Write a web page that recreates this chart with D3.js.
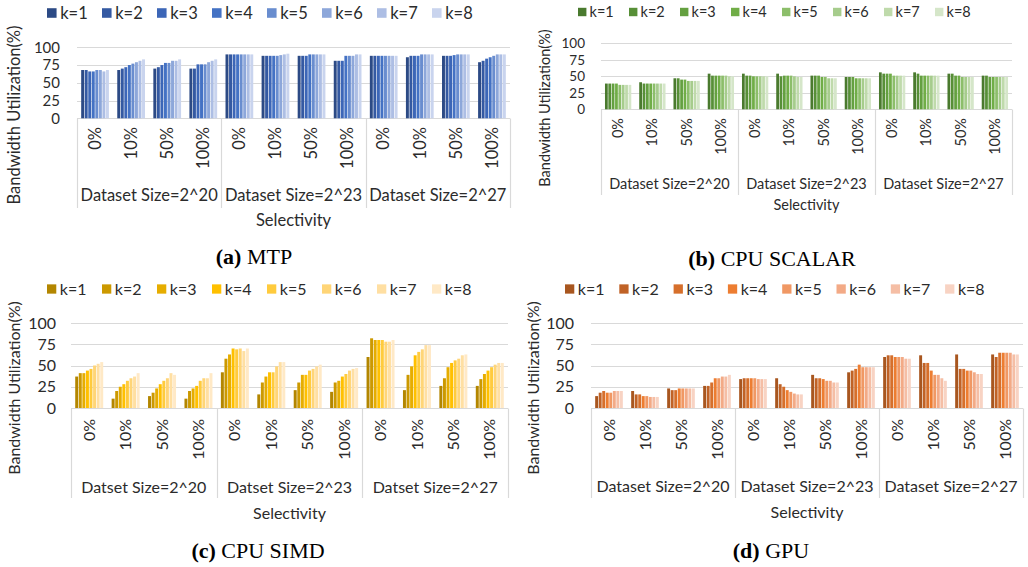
<!DOCTYPE html>
<html>
<head>
<meta charset="utf-8">
<script src="https://cdn.jsdelivr.net/npm/d3@7"></script>
<style>
  html, body { margin: 0; padding: 0; background: #fff; }
  svg { display: block; font-family: Lato, "Open Sans", sans-serif; }
</style>
</head>
<body>
<svg id="chart" width="1028" height="567"></svg>
<script>
const selectivities = ["0%", "10%", "50%", "100%"];
const datasetLabels = ["Dataset Size=2^20", "Dataset Size=2^23", "Dataset Size=2^27"];
const datsetLabels = ["Datset Size=2^20", "Datset Size=2^23", "Datset Size=2^27"];
const seriesNames = ["k=1", "k=2", "k=3", "k=4", "k=5", "k=6", "k=7", "k=8"];
const yTicks = [0, 25, 50, 75, 100];

// one row per (dataset size, selectivity), one value per k
const mtpValues = [
  [68, 68, 66, 66, 68, 68, 66, 68],
  [68, 70, 72, 75, 77, 79, 81, 83],
  [70, 72, 75, 78, 78, 81, 81, 83],
  [70, 70, 76, 76, 76, 79, 81, 83],
  [90, 90, 90, 90, 90, 90, 90, 90],
  [88, 88, 88, 88, 88, 89, 90, 91],
  [88, 88, 88, 90, 90, 90, 90, 90],
  [81, 81, 81, 88, 88, 88, 90, 90],
  [88, 88, 88, 88, 88, 88, 88, 88],
  [86, 88, 88, 88, 90, 90, 90, 90],
  [88, 88, 88, 89, 90, 90, 90, 90],
  [79, 81, 84, 86, 88, 90, 90, 90]
];

const cpuScalarValues = [
  [39, 39, 39, 39, 37, 37, 37, 37],
  [41, 39, 39, 39, 39, 39, 39, 39],
  [47, 47, 45, 45, 43, 43, 43, 43],
  [54, 51, 51, 51, 51, 51, 50, 50],
  [54, 51, 51, 50, 50, 50, 50, 50],
  [54, 50, 51, 51, 51, 50, 49, 49],
  [51, 51, 51, 49, 49, 47, 47, 47],
  [49, 49, 49, 47, 47, 47, 47, 47],
  [56, 54, 54, 54, 51, 51, 51, 51],
  [56, 54, 51, 51, 51, 51, 51, 51],
  [54, 54, 51, 51, 49, 49, 49, 49],
  [51, 51, 49, 49, 49, 49, 49, 49]
];

const cpuSimdValues = [
  [37, 41, 41, 44, 46, 50, 52, 54],
  [11, 20, 25, 28, 32, 35, 37, 41],
  [14, 18, 23, 28, 32, 35, 41, 39],
  [11, 20, 23, 26, 32, 35, 35, 41],
  [42, 58, 63, 70, 69, 70, 67, 70],
  [16, 30, 37, 42, 42, 49, 54, 54],
  [21, 30, 39, 39, 44, 46, 49, 51],
  [19, 30, 32, 37, 40, 44, 46, 47],
  [60, 82, 80, 80, 80, 78, 78, 80],
  [21, 39, 49, 62, 66, 69, 74, 74],
  [26, 35, 48, 53, 56, 58, 62, 63],
  [26, 34, 40, 44, 48, 51, 53, 53]
];

const gpuValues = [
  [14, 18, 20, 18, 18, 20, 20, 20],
  [20, 16, 16, 14, 14, 13, 13, 13],
  [23, 21, 21, 23, 23, 23, 23, 23],
  [26, 26, 30, 35, 35, 37, 37, 39],
  [34, 35, 35, 35, 35, 34, 34, 34],
  [35, 28, 25, 21, 19, 17, 16, 16],
  [39, 35, 35, 34, 32, 32, 30, 30],
  [42, 44, 46, 51, 48, 48, 48, 48],
  [60, 62, 62, 60, 60, 60, 58, 58],
  [62, 53, 53, 44, 39, 39, 35, 32],
  [63, 46, 46, 44, 44, 42, 40, 40],
  [63, 60, 65, 65, 65, 65, 63, 63]
];

const blues = ["#2c4a85", "#3459a2", "#3c66b7", "#4472c4", "#698dcf", "#8da7da", "#adbee4", "#c9d4ee"];
const greens = ["#4a7a2e", "#578f37", "#64a040", "#70ad47", "#8cbe6a", "#a6cc8c", "#bfdaab", "#d5e6c9"];
const golds = ["#b38600", "#cc9900", "#e6ad00", "#ffc000", "#ffcb3d", "#ffd577", "#ffdfa2", "#ffe9c6"];
const oranges = ["#a8561f", "#c06226", "#d66f2b", "#ed7d31", "#f09864", "#f3aa86", "#f5bea5", "#f8d3c3"];

const panels = [
  { tag: "(a)", name: " MTP", values: mtpValues, colors: blues, groups: datasetLabels,
    x0: 77, x1: 510, yTop: 47.3, yBase: 118.3, boxBottom: 208, tickTop: 127, groupY: 195, selY: 220,
    capX: 254, capY: 264, legX: 47, legY: 13, legStep: 55, ylabRight: 60, titleX: 14, titleY: 115,
    fs: 16.5, tickFs: 15 },
  { tag: "(b)", name: " CPU SCALAR", values: cpuScalarValues, colors: greens, groups: datasetLabels,
    x0: 601, x1: 1012, yTop: 43.3, yBase: 109.3, boxBottom: 195, tickTop: 118, groupY: 184, selY: 205,
    capX: 772, capY: 266, legX: 578, legY: 12, legStep: 51, ylabRight: 585, titleX: 545, titleY: 108,
    fs: 14.5, tickFs: 13.5 },
  { tag: "(c)", name: " CPU SIMD", values: cpuSimdValues, colors: golds, groups: datsetLabels,
    x0: 71, x1: 508, yTop: 323, yBase: 408, boxBottom: 498, tickTop: 419, groupY: 487, selY: 513,
    capX: 258, capY: 558, legX: 47, legY: 289, legStep: 55, ylabRight: 56, titleX: 14, titleY: 388,
    fs: 16, tickFs: 16 },
  { tag: "(d)", name: " GPU", values: gpuValues, colors: oranges, groups: datasetLabels,
    x0: 591, x1: 1023, yTop: 323, yBase: 408, boxBottom: 498, tickTop: 419, groupY: 486, selY: 512,
    capX: 771, capY: 558, legX: 565, legY: 289, legStep: 54.3, ylabRight: 574, titleX: 533, titleY: 388,
    fs: 16, tickFs: 16 }
];

const svg = d3.select("#chart");
const gridColor = "#d9d9d9";
const textColor = "#2b2b2b";

panels.forEach((p) => {
  const g = svg.append("g");

  const rows = [];
  p.groups.forEach((grp, gi) => {
    selectivities.forEach((sel, si) => {
      rows.push({ key: gi + "|" + sel, group: grp, gi, sel, values: p.values[gi * 4 + si] });
    });
  });

  const x = d3.scaleBand().domain(rows.map((r) => r.key)).range([p.x0, p.x1]);
  const groupX = d3.scaleBand().domain(p.groups).range([p.x0, p.x1]);
  const y = d3.scaleLinear().domain([0, 100]).range([p.yBase, p.yTop]);

  // Excel-like gap width (~219%)
  const bw = x.bandwidth();
  const gap = bw * 2.19 / 10.19;
  const xs = d3.scaleBand().domain(seriesNames).range([gap / 2, bw - gap / 2]);

  // gridlines
  g.append("g")
    .selectAll("line")
    .data(yTicks)
    .join("line")
    .attr("x1", p.x0)
    .attr("x2", p.x1)
    .attr("y1", (d) => Math.round(y(d)) + 0.5)
    .attr("y2", (d) => Math.round(y(d)) + 0.5)
    .attr("stroke", gridColor)
    .attr("stroke-width", 1);

  // y tick labels
  g.append("g")
    .selectAll("text")
    .data(yTicks)
    .join("text")
    .attr("x", p.ylabRight)
    .attr("y", (d) => y(d))
    .attr("dy", "0.35em")
    .attr("text-anchor", "end")
    .attr("font-size", p.tickFs)
    .attr("fill", textColor)
    .text((d) => d);

  // bars
  const cat = g.append("g")
    .selectAll("g")
    .data(rows)
    .join("g")
    .attr("transform", (r) => `translate(${x(r.key)},0)`);

  cat.selectAll("rect")
    .data((r) => r.values.map((v, i) => ({ k: seriesNames[i], v, i })))
    .join("rect")
    .attr("x", (d) => xs(d.k) + 0.3)
    .attr("width", xs.bandwidth() - 0.6)
    .attr("y", (d) => y(d.v))
    .attr("height", (d) => y(0) - y(d.v))
    .attr("fill", (d) => p.colors[d.i]);

  // category box lines (multi-level axis)
  g.append("g")
    .selectAll("line")
    .data([p.x0, ...p.groups.map((d) => groupX(d) + groupX.bandwidth())])
    .join("line")
    .attr("x1", (d) => Math.round(d) + 0.5)
    .attr("x2", (d) => Math.round(d) + 0.5)
    .attr("y1", Math.round(p.yBase) + 0.5)
    .attr("y2", p.boxBottom)
    .attr("stroke", gridColor)
    .attr("stroke-width", 1.2);

  // selectivity tick labels (rotated)
  g.append("g")
    .selectAll("text")
    .data(rows)
    .join("text")
    .attr("transform", (r) => `translate(${x(r.key) + bw / 2},${p.tickTop}) rotate(-90)`)
    .attr("dy", "0.35em")
    .attr("text-anchor", "end")
    .attr("font-size", p.fs)
    .attr("fill", textColor)
    .text((r) => r.sel);

  // dataset size labels
  g.append("g")
    .selectAll("text")
    .data(p.groups)
    .join("text")
    .attr("x", (d) => groupX(d) + groupX.bandwidth() / 2)
    .attr("y", p.groupY)
    .attr("dy", "0.35em")
    .attr("text-anchor", "middle")
    .attr("font-size", p.fs)
    .attr("fill", textColor)
    .text((d) => d);

  // axis titles
  g.append("text")
    .attr("x", (p.x0 + p.x1) / 2)
    .attr("y", p.selY)
    .attr("dy", "0.35em")
    .attr("text-anchor", "middle")
    .attr("font-size", p.fs)
    .attr("fill", textColor)
    .text("Selectivity");

  g.append("text")
    .attr("transform", `translate(${p.titleX},${p.titleY}) rotate(-90)`)
    .attr("dy", "0.35em")
    .attr("text-anchor", "middle")
    .attr("font-size", p.fs)
    .attr("fill", textColor)
    .text("Bandwidth Utilization(%)");

  // legend
  const leg = g.append("g")
    .selectAll("g")
    .data(seriesNames)
    .join("g")
    .attr("transform", (d, i) => `translate(${p.legX + i * p.legStep},${p.legY})`);

  leg.append("rect")
    .attr("x", 0)
    .attr("y", -p.fs * 0.29)
    .attr("width", p.fs * 0.58)
    .attr("height", p.fs * 0.58)
    .attr("fill", (d, i) => p.colors[i]);

  leg.append("text")
    .attr("x", p.fs * 0.8)
    .attr("dy", "0.35em")
    .attr("font-size", p.fs)
    .attr("fill", textColor)
    .text((d) => d);

  // caption
  const cap = g.append("text")
    .attr("x", p.capX)
    .attr("y", p.capY)
    .attr("text-anchor", "middle")
    .attr("font-family", "'Liberation Serif', 'DejaVu Serif', serif")
    .attr("font-size", 22)
    .attr("fill", "#000");
  cap.append("tspan").attr("font-weight", "bold").text(p.tag);
  cap.append("tspan").text(p.name);
});
</script>
</body>
</html>
